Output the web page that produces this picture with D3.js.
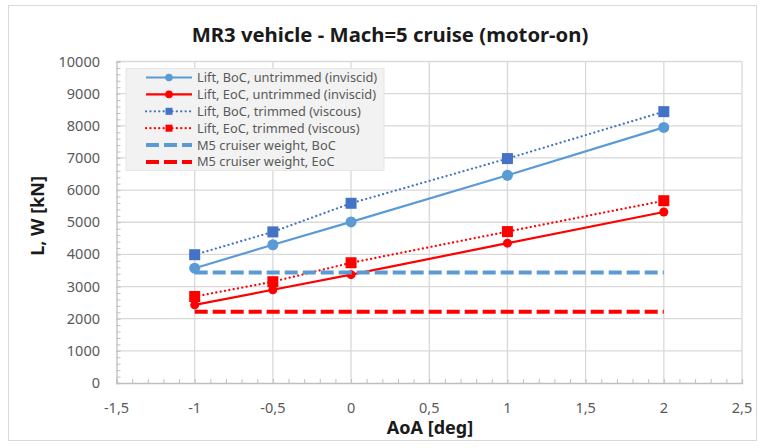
<!DOCTYPE html>
<html>
<head>
    <title>MR3 vehicle - Mach=5 cruise</title>
    <script src="https://d3js.org/d3.v7.min.js"></script>
    <style>
        body, html {
            margin: 0;
            padding: 0;
            background: #fff;
            overflow: hidden;
        }
        svg {
            font-family: "Noto Sans", "Open Sans", sans-serif;
        }
        .tick-label {
            fill: #595959;
            font-size: 14.5px;
        }
        .legend-text {
            fill: #595959;
            font-size: 12.8px;
        }
    </style>
</head>
<body>
    <svg id="chart" width="762" height="448"></svg>

    <script>
        // data
        const aoa = [-1, -0.5, 0, 1, 2];
        const liftBocUntrimmed = [3570, 4300, 5010, 6460, 7950];
        const liftEocUntrimmed = [2430, 2900, 3370, 4350, 5320];
        const liftBocTrimmed = [3990, 4700, 5590, 6980, 8440];
        const liftEocTrimmed = [2690, 3150, 3740, 4710, 5670];
        const weightX = [-1, 2];
        const weightBoc = [3440, 3440];
        const weightEoc = [2220, 2220];

        const xTicks = [-1.5, -1, -0.5, 0, 0.5, 1, 1.5, 2, 2.5];
        const yTicks = [0, 1000, 2000, 3000, 4000, 5000, 6000, 7000, 8000, 9000, 10000];

        const seriesNames = [
            "Lift, BoC, untrimmed (inviscid)",
            "Lift, EoC, untrimmed (inviscid)",
            "Lift, BoC, trimmed (viscous)",
            "Lift, EoC, trimmed (viscous)",
            "M5 cruiser weight, BoC",
            "M5 cruiser weight, EoC"
        ];

        const series = [
            { name: seriesNames[0], xs: aoa, ys: liftBocUntrimmed, color: "#5b9bd5", width: 2.2, dash: null, marker: "circle", size: 5.5 },
            { name: seriesNames[1], xs: aoa, ys: liftEocUntrimmed, color: "#ff0000", width: 2.2, dash: null, marker: "circle", size: 4.5 },
            { name: seriesNames[2], xs: aoa, ys: liftBocTrimmed, color: "#4472c4", width: 2.2, dash: "0.1 4.3", marker: "square", size: 11 },
            { name: seriesNames[3], xs: aoa, ys: liftEocTrimmed, color: "#ff0000", width: 2.2, dash: "0.1 4.3", marker: "square", size: 11 },
            { name: seriesNames[4], xs: weightX, ys: weightBoc, color: "#5b9bd5", width: 4, dash: "13 5", marker: null },
            { name: seriesNames[5], xs: weightX, ys: weightEoc, color: "#ff0000", width: 4, dash: "13 5", marker: null }
        ];

        const svg = d3.select("#chart");

        // chart frame
        svg.append("rect")
            .attr("x", 8.5).attr("y", 5.5)
            .attr("width", 748).attr("height", 435)
            .attr("fill", "#fff")
            .attr("stroke", "#d9d9d9");

        const x = d3.scaleLinear().domain([-1.5, 2.5]).range([116.5, 742]);
        const y = d3.scaleLinear().domain([0, 10000]).range([383, 61.5]);

        const fmt = d => String(d).replace(".", ",");

        // gridlines
        svg.append("g").selectAll("line")
            .data(yTicks.slice(1))
            .enter().append("line")
            .attr("x1", x(-1.5)).attr("x2", x(2.5))
            .attr("y1", d => y(d)).attr("y2", d => y(d))
            .attr("stroke", "#d9d9d9").attr("stroke-width", 1.3);

        svg.append("g").selectAll("line")
            .data(xTicks.slice(1))
            .enter().append("line")
            .attr("x1", d => x(d)).attr("x2", d => x(d))
            .attr("y1", y(0)).attr("y2", y(10000))
            .attr("stroke", "#d9d9d9").attr("stroke-width", 1.3);

        // axes with minor inside ticks
        const xAxis = d3.axisBottom(x)
            .tickValues(d3.range(-1.5, 2.51, 0.1))
            .tickSize(-4)
            .tickFormat("");
        svg.append("g")
            .attr("transform", `translate(0,${y(0)})`)
            .call(xAxis)
            .call(g => g.select(".domain").attr("stroke", "#bfbfbf").attr("stroke-width", 1.3))
            .call(g => g.selectAll(".tick line").attr("stroke", "#bfbfbf"));

        const yAxis = d3.axisLeft(y)
            .tickValues(d3.range(0, 10001, 200))
            .tickSize(-4)
            .tickFormat("");
        svg.append("g")
            .attr("transform", `translate(${x(-1.5)},0)`)
            .call(yAxis)
            .call(g => g.select(".domain").attr("stroke", "#bfbfbf").attr("stroke-width", 1.3))
            .call(g => g.selectAll(".tick line").attr("stroke", "#bfbfbf"));

        // tick labels
        svg.append("g").selectAll("text")
            .data(yTicks)
            .enter().append("text")
            .attr("class", "tick-label")
            .attr("x", 100)
            .attr("y", d => y(d))
            .attr("dy", "0.35em")
            .attr("text-anchor", "end")
            .text(d => d);

        svg.append("g").selectAll("text")
            .data(xTicks)
            .enter().append("text")
            .attr("class", "tick-label")
            .attr("x", d => x(d))
            .attr("y", 408)
            .attr("dy", "0.35em")
            .attr("text-anchor", "middle")
            .text(fmt);

        // titles
        svg.append("text")
            .attr("x", 390).attr("y", 35)
            .attr("dy", "0.35em")
            .attr("text-anchor", "middle")
            .attr("font-weight", "bold")
            .attr("font-size", "20.3px")
            .attr("fill", "#1a1a1a")
            .text("MR3 vehicle - Mach=5 cruise (motor-on)");

        svg.append("text")
            .attr("transform", "translate(38,216) rotate(-90)")
            .attr("dy", "0.35em")
            .attr("text-anchor", "middle")
            .attr("font-weight", "bold")
            .attr("font-size", "18px")
            .attr("fill", "#1a1a1a")
            .text("L, W [kN]");

        svg.append("text")
            .attr("x", 430).attr("y", 428)
            .attr("dy", "0.35em")
            .attr("text-anchor", "middle")
            .attr("font-weight", "bold")
            .attr("font-size", "18px")
            .attr("fill", "#1a1a1a")
            .text("AoA [deg]");

        // series
        const line = d3.line().x(d => x(d[0])).y(d => y(d[1]));

        function drawMarker(g, s, cx, cy) {
            if (s.marker === "circle") {
                g.append("circle")
                    .attr("cx", cx).attr("cy", cy).attr("r", s.size)
                    .attr("fill", s.color);
            } else if (s.marker === "square") {
                g.append("rect")
                    .attr("x", cx - s.size / 2).attr("y", cy - s.size / 2)
                    .attr("width", s.size).attr("height", s.size)
                    .attr("fill", s.color);
            }
        }

        series.forEach(s => {
            const pts = s.xs.map((v, i) => [v, s.ys[i]]);
            const g = svg.append("g");
            g.append("path")
                .attr("d", line(pts))
                .attr("fill", "none")
                .attr("stroke", s.color)
                .attr("stroke-width", s.width)
                .attr("stroke-dasharray", s.dash)
                .attr("stroke-linecap", s.dash && s.dash.startsWith("0.1") ? "round" : "butt");
            pts.forEach(p => drawMarker(g, s, x(p[0]), y(p[1])));
        });

        // legend
        const legend = svg.append("g");
        legend.append("rect")
            .attr("x", 126).attr("y", 68.5)
            .attr("width", 258).attr("height", 102)
            .attr("fill", "#f2f2f2")
            .attr("stroke", "#e6e6e6");

        series.forEach((s, i) => {
            const ly = 77.5 + i * 16.9;
            const g = legend.append("g");
            g.append("line")
                .attr("x1", 146).attr("x2", 192)
                .attr("y1", ly).attr("y2", ly)
                .attr("stroke", s.color)
                .attr("stroke-width", s.width)
                .attr("stroke-dasharray", s.dash)
                .attr("stroke-linecap", s.dash && s.dash.startsWith("0.1") ? "round" : "butt");
            const ms = Object.assign({}, s, { size: s.marker === "square" ? 7 : 3.8 });
            drawMarker(g, ms, 169, ly);
            g.append("text")
                .attr("class", "legend-text")
                .attr("x", 197).attr("y", ly)
                .attr("dy", "0.35em")
                .text(s.name);
        });
    </script>
</body>
</html>
